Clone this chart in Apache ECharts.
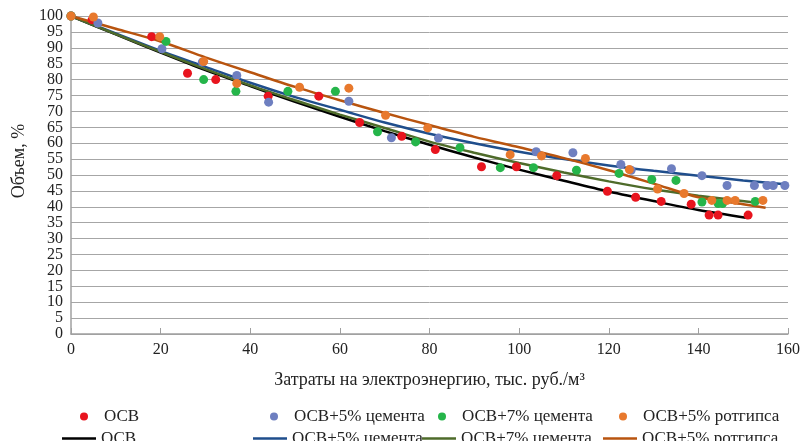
<!DOCTYPE html>
<html>
<head>
<meta charset="utf-8">
<script src="https://cdn.jsdelivr.net/npm/echarts@6/dist/echarts.min.js"></script>
<style>
html,body{margin:0;padding:0;background:#fff;}
#main{width:809px;height:441px;}
</style>
</head>
<body>
<div id="main"></div>
<script>
// точки (затраты, объем)
var osvPts = [[0,100],[4.7,98.8],[18,93.5],[26,82],[32.3,80],[44,74.8],[55.3,74.8],[64.4,66.5],[73.8,62.2],[81.3,58],[91.6,52.6],[99.4,52.6],[108.4,49.8],[119.7,44.9],[126,43],[131.7,41.7],[138.4,40.8],[142.4,37.4],[144.4,37.4],[151.1,37.4]]
var cem5Pts = [[0,100],[6,97.8],[20.3,89.7],[29.3,85.5],[37,81.3],[44.1,72.9],[62,73.2],[71.5,61.7],[82,61.6],[103.8,57.3],[112,57],[122.7,53.3],[125,51.5],[134,52],[140.8,49.8],[146.4,46.7],[152.5,46.7],[155.3,46.7],[156.7,46.7],[159.3,46.7]]
var cem7Pts = [[0,100],[21.2,92],[29.6,80],[36.8,76.3],[48.4,76.3],[59,76.3],[68.4,63.6],[76.9,60.4],[86.8,58.6],[95.8,52.3],[103.2,52.3],[112.8,51.5],[122.3,50.5],[129.6,48.6],[135,48.3],[140.8,41.5],[144.4,41],[145.4,41],[152.7,41.7]]
var gypPts = [[0,100],[5,99.7],[19.8,93.5],[29.6,85.7],[37,78.8],[51,77.6],[62,77.3],[70.2,68.8],[79.6,64.8],[98,56.4],[105,56],[114.8,55.2],[124.6,51.7],[130.9,45.6],[136.8,44.2],[143,42],[146.4,42],[148.2,42],[154.4,42]]

// линии тренда
var osvLine = [[0,100],[10,94.2],[20,88.5],[30,83],[40,78],[50,73],[60,68.3],[70,63.8],[80,59.5],[90,55.5],[100,51.7],[110,48.2],[120,44.8],[130,41.8],[140,39],[151,36.5]]
var cem5Line = [[0,100],[10,94.5],[20,89],[30,84],[40,79],[50,74.5],[60,70.5],[70,66.5],[80,63],[90,60],[100,57.3],[110,55],[120,53],[130,51.3],[140,49.8],[150,48.3],[160,47]]
var cem7Line = [[0,100],[10,94.3],[20,88.7],[30,83.3],[40,78.2],[50,73.5],[60,69],[70,64.8],[80,60.5],[90,57],[100,53.8],[110,50.8],[120,48],[130,45.5],[140,43.5],[153,41.3]]
var gypLine = [[0,100],[10,96],[20,92],[30,87],[40,82.3],[50,77.7],[60,73.5],[70,69.5],[80,65.7],[90,62],[100,58.7],[110,55.3],[120,51.5],[130,47.3],[140,43],[150,40.8],[155,39.7]]

var names = ['ОСВ', 'ОСВ+5% цемента', 'ОСВ+7% цемента', 'ОСВ+5% ротгипса']
var dotColors = ['#e8141e', '#6e7fc0', '#25b54a', '#e8792d']
var lineColors = ['#000000', '#1f4e8c', '#4e6b2a', '#b8540f']

var chart = echarts.init(document.getElementById('main'))
var font = '"Liberation Serif", "DejaVu Serif", serif'

var pts = [osvPts, cem5Pts, cem7Pts, gypPts]
var lines = [osvLine, cem5Line, cem7Line, gypLine]
var series = []
for (var k = 0; k < 4; k++) {
	series.push({
		name: 'l:' + names[k],
		type: 'line',
		data: lines[k],
		smooth: 0.3,
		showSymbol: false,
		lineStyle: {color: lineColors[k], width: 2.5},
		itemStyle: {color: lineColors[k]},
		z: 2
	})
}
for (var k = 0; k < 4; k++) {
	series.push({
		name: 'p:' + names[k],
		type: 'scatter',
		data: pts[k],
		symbolSize: 9,
		itemStyle: {color: dotColors[k], opacity: 1},
		z: 3
	})
}

// легенда: 8 отдельных блоков
var dotLeft = [75, 265, 433, 614]
var lineLeft = [57, 248, 417, 598]
var legends = []
for (var k = 0; k < 4; k++) {
	legends.push({
		data: [{name: 'p:' + names[k], icon: 'circle'}],
		left: dotLeft[k], top: 403,
		itemWidth: 30, itemHeight: 8,
		formatter: function (n) { return n.slice(2) },
		textStyle: {fontFamily: font, fontSize: 17, color: '#222'},
		selectedMode: false
	})
	legends.push({
		data: [{name: 'l:' + names[k], icon: 'rect'}],
		left: lineLeft[k], top: 425,
		itemWidth: 34, itemHeight: 2.5,
		formatter: function (n) { return n.slice(2) },
		textStyle: {fontFamily: font, fontSize: 17, color: '#222'},
		selectedMode: false
	})
}

chart.setOption({
	animation: false,
	backgroundColor: '#fff',
	grid: {left: 71, right: 21, top: 16, bottom: 107},
	legend: legends,
	xAxis: {
		type: 'value', min: 0, max: 160, interval: 20,
		name: 'Затраты на электроэнергию, тыс. руб./м³',
		nameLocation: 'middle', nameGap: 37,
		nameTextStyle: {fontFamily: font, fontSize: 18, color: '#222'},
		axisLine: {show: true, lineStyle: {color: '#a0a0a0', width: 1.5}},
		axisTick: {show: true, inside: true, length: 6, lineStyle: {color: '#a0a0a0'}},
		axisLabel: {fontFamily: font, fontSize: 16, color: '#222', margin: 8},
		splitLine: {show: false}
	},
	yAxis: {
		type: 'value', min: 0, max: 100, interval: 5,
		name: 'Объем, %',
		nameLocation: 'middle', nameGap: 41, nameRotate: 90,
		nameTextStyle: {fontFamily: font, fontSize: 18, color: '#222', padding: [0, 0, 0, 28]},
		axisLine: {show: true, lineStyle: {color: '#a0a0a0', width: 1.5}},
		axisTick: {show: false},
		axisLabel: {fontFamily: font, fontSize: 16, color: '#222', margin: 8},
		splitLine: {show: true, lineStyle: {color: '#a6a6a6', width: 1}}
	},
	series: series
})
</script>
</body>
</html>
